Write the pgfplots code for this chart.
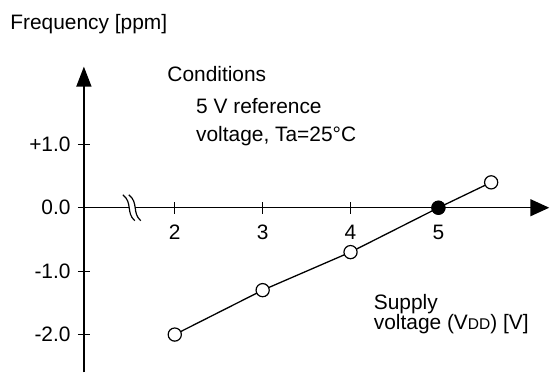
\documentclass[border=0pt]{standalone}
\usepackage{fontspec}
\setmainfont{Liberation Sans}
\usepackage{pgfplots}
\pgfplotsset{compat=1.18}
\usetikzlibrary{arrows.meta}
\begin{document}
\fontsize{10.5}{12}\selectfont
\begin{tikzpicture}
\begin{axis}[
  x=44bp, y=31.75bp,
  xmin=0.966, xmax=6.261, ymin=-2.598, ymax=2.225,
  axis x line=middle, axis y line=left,
  clip=false,
  axis line style={line width=0.75bp},
  x axis line style={-{Triangle[width=8.5bp,length=9.5bp]}},
  y axis line style={-{Triangle[width=7.5bp,length=10bp]}},
  xtick={2,3,4,5}, xticklabels={2,3,4,5},
  ytick={-2,-1,0,1}, yticklabels={-2.0,-1.0,0.0,+1.0},
  tick align=center, major tick length=6bp,
  tick style={line width=0.6bp, black},
  xticklabel style={anchor=base, inner sep=0pt, yshift=-13bp},
  yticklabel style={anchor=east, inner sep=0pt, xshift=-3.5bp},
  /pgf/number format/assume math mode=true,
]
% axis break
\draw[white, line width=3bp] (axis cs:1.478,0) -- (axis cs:1.548,0);
\draw[black, line width=0.6bp] (axis cs:1.409,0.205) .. controls (axis cs:1.523,0.079) and (axis cs:1.443,-0.079) .. (axis cs:1.545,-0.205);
\draw[black, line width=0.6bp] (axis cs:1.477,0.205) .. controls (axis cs:1.591,0.079) and (axis cs:1.511,-0.079) .. (axis cs:1.613,-0.205);

\addplot[black, line width=0.65bp, mark=*, mark size=3.3bp,
  mark options={fill=white, draw=black, line width=0.6bp}]
  coordinates {(2,-2.0) (3,-1.3) (4,-0.7) (5,0) (5.6,0.4)};
\addplot[only marks, mark=*, mark size=3.3bp,
  mark options={fill=black, draw=black}]
  coordinates {(5,0)};

\node[anchor=base west, inner sep=0pt] at (axis cs:0.125,2.803) {Frequency [ppm]};
\node[anchor=base west, inner sep=0pt] at (axis cs:1.9125,1.989) {Conditions};
\node[anchor=base west, inner sep=0pt] at (axis cs:2.239,1.480) {5 V reference};
\node[anchor=base west, inner sep=0pt] at (axis cs:2.239,1.044) {voltage, Ta=25°C};
\node[anchor=base west, inner sep=0pt] at (axis cs:4.261,-1.606) {Supply};
\node[anchor=base west, inner sep=0pt] at (axis cs:4.261,-1.921) {voltage (V{\fontsize{7.8}{9}\selectfont DD}) [V]};

\path (axis cs:0.0114,3.2756) rectangle (axis cs:6.2614,-2.6142);
\end{axis}
\end{tikzpicture}
\end{document}
